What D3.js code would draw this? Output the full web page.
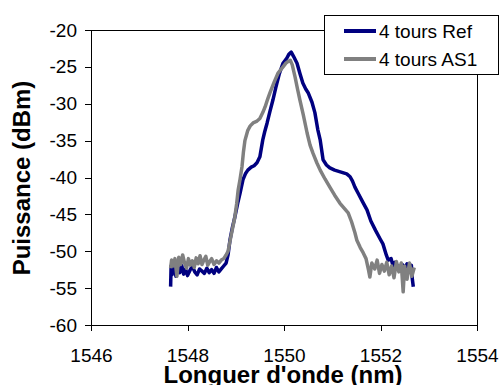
<!DOCTYPE html>
<html>
<head>
<meta charset="utf-8">
<script src="https://cdn.jsdelivr.net/npm/d3@7"></script>
<style>
  body { margin: 0; background: #fff; }
  svg { display: block; font-family: Arial, "Liberation Sans", sans-serif; }
</style>
</head>
<body>
<div id="chart"></div>
<script>
// tick values
var xTicks = [1546, 1548, 1550, 1552, 1554];
var yTicks = [-20, -25, -30, -35, -40, -45, -50, -55, -60];

// 4 tours Ref (blue)
var refWavelength = [1547.65, 1547.66, 1547.68, 1547.72, 1547.76, 1547.8, 1547.84, 1547.88, 1547.92, 1547.96,
    1548.0, 1548.05, 1548.1, 1548.15, 1548.2, 1548.25, 1548.3, 1548.35, 1548.4, 1548.45,
    1548.5, 1548.55, 1548.6, 1548.65, 1548.7, 1548.75, 1548.8,
    1548.84, 1548.88, 1548.93, 1548.98, 1549.04, 1549.09, 1549.15, 1549.2, 1549.25, 1549.32,
    1549.38, 1549.44, 1549.5, 1549.56, 1549.6, 1549.65, 1549.71, 1549.77, 1549.83, 1549.9,
    1549.98, 1550.06, 1550.1, 1550.15, 1550.2, 1550.27, 1550.33, 1550.39, 1550.45, 1550.5,
    1550.58, 1550.64, 1550.7, 1550.75, 1550.81, 1550.88, 1550.95, 1551.05, 1551.2, 1551.3,
    1551.37, 1551.42, 1551.47, 1551.55, 1551.63, 1551.72, 1551.8, 1551.9, 1551.99, 1552.05,
    1552.12, 1552.16, 1552.22, 1552.26, 1552.3, 1552.38, 1552.45, 1552.5, 1552.55, 1552.6,
    1552.64, 1552.66, 1552.68];
var refPower = [-54.8, -52.0, -53.2, -51.5, -53.4, -52.2, -52.9, -51.9, -53.1, -52.4,
    -53.3, -52.6, -52.0, -52.8, -53.2, -52.4, -52.7, -53.0, -52.3, -52.9,
    -52.5, -53.0, -52.2, -52.8, -52.4, -52.0, -51.6,
    -50.5, -48.5, -46.8, -45.4, -43.5, -42.1, -40.3, -39.5, -39.0, -38.6,
    -38.4, -38.0, -37.2, -34.9, -33.8, -32.6, -31.0, -29.5, -27.8, -26.0,
    -24.5, -23.8, -23.3, -23.0, -23.6, -24.5, -25.9, -27.2, -28.0, -28.5,
    -29.8, -31.2, -33.5, -34.9, -37.6, -38.3, -38.7, -39.0, -39.3, -39.5,
    -39.9, -40.5, -41.3, -42.3, -43.3, -44.4, -45.9, -47.2, -48.3, -49.0,
    -50.5, -51.2, -51.0, -52.0, -51.5, -52.2, -51.8, -52.3, -51.7, -52.5,
    -51.9, -53.8, -54.8];

// 4 tours AS1 (gray)
var as1Wavelength = [1547.65, 1547.67, 1547.7, 1547.74, 1547.78, 1547.82, 1547.86, 1547.9, 1547.94, 1547.98,
    1548.02, 1548.06, 1548.1, 1548.14, 1548.18, 1548.22, 1548.26, 1548.3, 1548.34, 1548.38,
    1548.42, 1548.46, 1548.5, 1548.55, 1548.6, 1548.65, 1548.7, 1548.75, 1548.8,
    1548.84, 1548.9, 1548.98, 1549.02, 1549.05, 1549.09, 1549.13, 1549.16, 1549.19, 1549.25,
    1549.3, 1549.36, 1549.43, 1549.5, 1549.56, 1549.61, 1549.66, 1549.71, 1549.8, 1549.88,
    1549.98, 1550.04, 1550.08, 1550.13, 1550.17, 1550.23, 1550.28, 1550.33, 1550.4, 1550.48,
    1550.54, 1550.6, 1550.68, 1550.75, 1550.85, 1550.95, 1551.05, 1551.16, 1551.25, 1551.33,
    1551.4, 1551.47, 1551.51, 1551.58, 1551.64, 1551.7, 1551.75, 1551.78, 1551.82, 1551.88,
    1551.93, 1551.98, 1552.03, 1552.08, 1552.13, 1552.18, 1552.23, 1552.28, 1552.33, 1552.38,
    1552.43, 1552.47, 1552.5, 1552.55, 1552.6, 1552.65, 1552.7];
var as1Power = [-52.3, -51.2, -52.0, -51.0, -53.4, -50.8, -51.8, -50.5, -51.6, -52.3,
    -51.0, -51.9, -51.3, -52.2, -50.9, -51.7, -50.6, -51.8, -51.2, -50.7,
    -51.9, -51.4, -51.0, -51.8, -51.3, -51.6, -51.2, -51.0, -50.5,
    -50.0, -48.0, -45.4, -43.5, -41.7, -40.2, -38.5, -36.5, -35.0, -33.6,
    -33.0, -32.6, -32.4, -32.0, -31.2, -30.4, -29.4, -28.5, -27.0, -25.8,
    -25.0, -24.5, -24.3, -24.1, -24.7, -26.4, -28.0, -29.5, -31.5, -34.0,
    -35.6, -36.7, -38.0, -39.0, -40.2, -41.3, -42.4, -43.5, -44.2, -44.8,
    -46.0, -47.5, -48.5, -49.5, -50.2, -51.0, -52.5, -53.5, -51.6, -52.4,
    -51.2, -53.0, -51.8, -52.7, -51.5, -53.2, -52.0, -53.6, -51.4, -52.8,
    -51.6, -55.5, -52.0, -53.8, -51.6, -53.4, -52.2];

var seriesNames = ["4 tours Ref", "4 tours AS1"];
var seriesColors = ["#000080", "#808080"];

var W = 500, H = 385;
var margin = { top: 30, right: 23, bottom: 60, left: 91 },
    width = W - margin.left - margin.right,
    height = H - margin.top - margin.bottom;

var svg = d3.select("#chart")
    .append("svg")
    .attr("width", W)
    .attr("height", H);

var xScale = d3.scaleLinear().domain([1546, 1554]).range([0, width]);
var yScale = d3.scaleLinear().domain([-60, -20]).range([height, 0]);

// plain "-20" style labels, no thousands separator
var plain = function (d) { return String(d); };

var chart = svg.append("g")
    .attr("transform", "translate(" + margin.left + "," + margin.top + ")");

// frame of plot area
chart.append("rect")
    .attr("x", 0).attr("y", 0)
    .attr("width", width).attr("height", height)
    .attr("fill", "none")
    .attr("stroke", "#000")
    .attr("stroke-width", 1)
    .attr("shape-rendering", "crispEdges");

// y axis
var yAxis = chart.append("g")
    .call(d3.axisLeft(yScale).tickValues(yTicks).tickFormat(plain).tickSize(6).tickSizeOuter(0).tickPadding(8));
yAxis.selectAll("text")
    .attr("font-size", "19px")
    .attr("font-family", "Arial, 'Liberation Sans', sans-serif")
    .attr("fill", "#000");

// x axis
var xAxis = chart.append("g")
    .attr("transform", "translate(0," + height + ")")
    .call(d3.axisBottom(xScale).tickValues(xTicks).tickFormat(plain).tickSize(6).tickSizeOuter(0).tickPadding(0));
xAxis.selectAll("text")
    .attr("y", 37)
    .attr("dy", 0)
    .attr("font-size", "19px")
    .attr("font-family", "Arial, 'Liberation Sans', sans-serif")
    .attr("fill", "#000");
svg.selectAll(".domain, .tick line").attr("stroke", "#000").attr("shape-rendering", "crispEdges");

// curves
var line = d3.line()
    .x(function (d) { return xScale(d[0]); })
    .y(function (d) { return yScale(d[1]); });

var series = [
    d3.zip(refWavelength, refPower),
    d3.zip(as1Wavelength, as1Power)
];

chart.selectAll(".curve")
    .data(series)
    .enter()
    .append("path")
    .attr("class", "curve")
    .attr("d", line)
    .attr("fill", "none")
    .attr("stroke", function (d, i) { return seriesColors[i]; })
    .attr("stroke-width", 3.5)
    .attr("stroke-linejoin", "round");

// legend
var legend = svg.append("g").attr("transform", "translate(324,15)");
legend.append("rect")
    .attr("x", 0.5).attr("y", 0.5)
    .attr("width", 174).attr("height", 59)
    .attr("fill", "#fff")
    .attr("stroke", "#000");
seriesNames.forEach(function (name, i) {
    var yy = 16 + i * 28;
    legend.append("line")
        .attr("x1", 20).attr("x2", 52)
        .attr("y1", yy).attr("y2", yy)
        .attr("stroke", seriesColors[i])
        .attr("stroke-width", 4);
    legend.append("text")
        .attr("x", 55).attr("y", yy)
        .attr("dy", "0.35em")
        .attr("font-size", "19px")
        .text(name);
});

// axis titles
svg.append("text")
    .attr("x", 283).attr("y", 383)
    .attr("text-anchor", "middle")
    .attr("font-size", "24px")
    .attr("font-weight", "bold")
    .text("Longuer d'onde (nm)");

svg.append("text")
    .attr("transform", "translate(30,178) rotate(-90)")
    .attr("text-anchor", "middle")
    .attr("font-size", "24px")
    .attr("font-weight", "bold")
    .text("Puissance (dBm)");
</script>
</body>
</html>
